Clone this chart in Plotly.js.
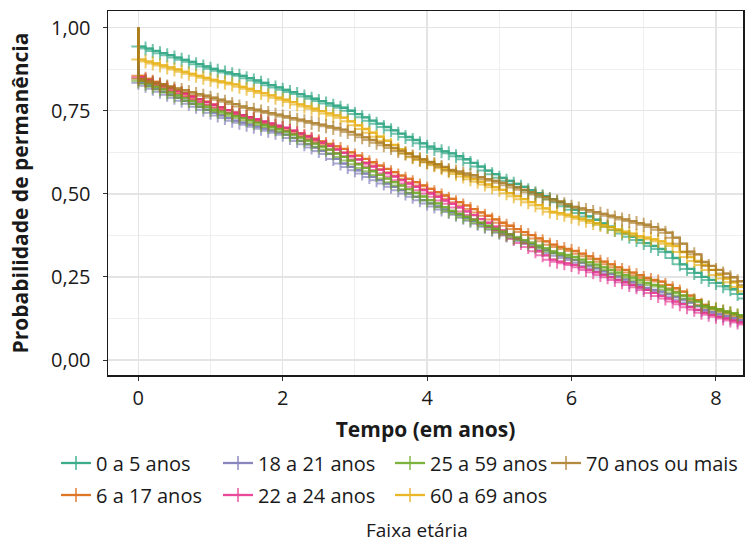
<!DOCTYPE html>
<html>
<head>
<meta charset="utf-8">
<script src="https://cdn.plot.ly/plotly-3.0.1.min.js"></script>
<style>html,body{margin:0;padding:0;background:#fff;}#chart{width:745px;height:545px;}</style>
</head>
<body>
<div id="chart"></div>
<script>
// Tempo (em anos)
const times = [0.0,0.1,0.2,0.3,0.4,0.5,0.6,0.7,0.8,0.9,
1.0,1.1,1.2,1.3,1.4,1.5,1.6,1.7,1.8,1.9,
2.0,2.1,2.2,2.3,2.4,2.5,2.6,2.7,2.8,2.9,
3.0,3.1,3.2,3.3,3.4,3.5,3.6,3.7,3.8,3.9,
4.0,4.1,4.2,4.3,4.4,4.5,4.6,4.7,4.8,4.9,
5.0,5.1,5.2,5.3,5.4,5.5,5.6,5.7,5.8,5.9,
6.0,6.1,6.2,6.3,6.4,6.5,6.6,6.7,6.8,6.9,
7.0,7.1,7.2,7.3,7.4,7.5,7.6,7.7,7.8,7.9,
8.0,8.1,8.2,8.3,8.4];

const startProb = 1.0;

const faixa0a5 = [0.943,0.937,0.930,0.923,0.917,0.910,0.903,0.897,0.890,0.883,
0.876,0.870,0.865,0.860,0.855,0.848,0.841,0.834,0.827,0.820,
0.813,0.806,0.800,0.793,0.786,0.779,0.772,0.765,0.759,0.750,
0.740,0.730,0.720,0.711,0.701,0.691,0.681,0.671,0.662,0.652,
0.642,0.635,0.628,0.622,0.613,0.604,0.593,0.582,0.570,0.559,
0.548,0.539,0.530,0.521,0.511,0.502,0.493,0.484,0.475,0.463,
0.452,0.442,0.432,0.422,0.411,0.401,0.391,0.381,0.371,0.361,
0.352,0.343,0.334,0.325,0.307,0.288,0.274,0.262,0.250,0.241,
0.232,0.222,0.213,0.199,0.185];

const faixa6a17 = [0.855,0.846,0.837,0.829,0.820,0.811,0.803,0.794,0.785,0.777,
0.768,0.760,0.752,0.744,0.737,0.730,0.723,0.716,0.709,0.703,
0.697,0.689,0.682,0.674,0.666,0.658,0.650,0.643,0.635,0.625,
0.615,0.605,0.595,0.585,0.575,0.565,0.555,0.545,0.535,0.525,
0.515,0.505,0.495,0.485,0.475,0.465,0.454,0.444,0.434,0.423,
0.413,0.404,0.394,0.385,0.376,0.366,0.357,0.347,0.340,0.334,
0.328,0.320,0.312,0.304,0.296,0.288,0.279,0.271,0.263,0.255,
0.247,0.241,0.236,0.226,0.216,0.206,0.194,0.180,0.166,0.158,
0.152,0.145,0.139,0.132,0.126];

const faixa18a21 = [0.834,0.825,0.816,0.807,0.798,0.789,0.780,0.771,0.762,0.753,
0.744,0.736,0.728,0.720,0.714,0.708,0.702,0.696,0.690,0.684,
0.678,0.668,0.659,0.649,0.639,0.629,0.620,0.605,0.591,0.581,
0.571,0.561,0.551,0.541,0.531,0.521,0.511,0.501,0.491,0.481,
0.471,0.462,0.453,0.445,0.437,0.428,0.419,0.410,0.401,0.392,
0.383,0.375,0.366,0.358,0.349,0.340,0.331,0.322,0.314,0.307,
0.301,0.293,0.284,0.276,0.267,0.259,0.251,0.242,0.234,0.225,
0.217,0.211,0.206,0.198,0.190,0.182,0.173,0.162,0.150,0.144,
0.138,0.132,0.126,0.120,0.115];

const faixa22a24 = [0.850,0.842,0.833,0.825,0.817,0.809,0.801,0.792,0.784,0.776,
0.768,0.760,0.752,0.744,0.737,0.731,0.725,0.718,0.712,0.705,
0.699,0.690,0.681,0.672,0.663,0.654,0.644,0.633,0.623,0.613,
0.603,0.592,0.582,0.572,0.562,0.552,0.541,0.531,0.521,0.511,
0.501,0.491,0.480,0.470,0.459,0.447,0.436,0.424,0.413,0.401,
0.390,0.378,0.365,0.352,0.340,0.327,0.315,0.302,0.296,0.291,
0.286,0.279,0.271,0.264,0.256,0.249,0.241,0.234,0.226,0.219,
0.211,0.202,0.193,0.185,0.176,0.168,0.159,0.151,0.142,0.136,
0.130,0.125,0.119,0.113,0.107];

const faixa25a59 = [0.840,0.831,0.822,0.814,0.805,0.796,0.788,0.779,0.770,0.762,
0.753,0.747,0.741,0.734,0.728,0.721,0.714,0.707,0.701,0.694,
0.687,0.678,0.669,0.660,0.651,0.642,0.633,0.621,0.611,0.600,
0.589,0.578,0.568,0.557,0.546,0.535,0.525,0.514,0.503,0.492,
0.481,0.471,0.460,0.449,0.440,0.431,0.422,0.413,0.404,0.395,
0.386,0.378,0.369,0.361,0.353,0.344,0.336,0.327,0.321,0.316,
0.310,0.302,0.294,0.287,0.279,0.271,0.263,0.255,0.248,0.240,
0.232,0.226,0.221,0.212,0.203,0.194,0.185,0.176,0.163,0.157,
0.152,0.146,0.141,0.135,0.129];

const faixa60a69 = [0.904,0.898,0.892,0.886,0.880,0.874,0.867,0.861,0.855,0.849,
0.843,0.838,0.834,0.829,0.822,0.816,0.809,0.803,0.796,0.789,
0.783,0.776,0.769,0.763,0.756,0.749,0.742,0.736,0.729,0.718,
0.706,0.695,0.684,0.672,0.660,0.647,0.634,0.622,0.610,0.602,
0.594,0.586,0.577,0.568,0.560,0.552,0.544,0.536,0.528,0.520,
0.512,0.502,0.493,0.484,0.475,0.466,0.456,0.446,0.442,0.437,
0.431,0.425,0.419,0.412,0.406,0.400,0.393,0.386,0.380,0.373,
0.368,0.363,0.357,0.350,0.343,0.325,0.310,0.298,0.286,0.271,
0.256,0.245,0.234,0.220,0.207];

const faixa70mais = [0.846,0.840,0.834,0.829,0.823,0.817,0.812,0.806,0.800,0.795,
0.789,0.783,0.777,0.770,0.763,0.758,0.753,0.748,0.743,0.738,
0.733,0.728,0.723,0.718,0.713,0.708,0.703,0.698,0.693,0.686,
0.678,0.670,0.662,0.654,0.646,0.638,0.629,0.621,0.612,0.604,
0.596,0.589,0.581,0.572,0.567,0.561,0.556,0.550,0.544,0.539,
0.533,0.526,0.519,0.512,0.505,0.498,0.490,0.483,0.477,0.469,
0.461,0.456,0.451,0.445,0.440,0.434,0.429,0.423,0.418,0.412,
0.407,0.400,0.392,0.383,0.368,0.350,0.326,0.318,0.295,0.283,
0.271,0.260,0.249,0.237,0.226];

const seriesNames = ["0 a 5 anos","6 a 17 anos","18 a 21 anos","22 a 24 anos","25 a 59 anos","60 a 69 anos","70 anos ou mais"];
const seriesValues = [faixa0a5, faixa6a17, faixa18a21, faixa22a24, faixa25a59, faixa60a69, faixa70mais];
const seriesColors = ["#1B9E77","#D95F02","#7570B3","#E7298A","#66A61E","#E6AB02","#A6761D"];

const yTickVals = [0, 0.25, 0.5, 0.75, 1];
const yTickText = ["0,00","0,25","0,50","0,75","1,00"];
const xTickVals = [0, 2, 4, 6, 8];
const xTickText = ["0","2","4","6","8"];

// legend grid (column-major like the reference): column and row of each entry
const legendCol = [0, 0, 1, 1, 2, 2, 3];
const legendRowIdx = [0, 1, 0, 1, 0, 1, 0];
const legendColLeft = [56, 218, 390, 546];   // px, left edge of each legend column
const legendRowMid = [463, 495];             // px, vertical centre of each row

const FONT = "Open Sans, Noto Sans, sans-serif";
const W = 745, H = 545;

const traces = seriesNames.map((name, i) => {
  const xs = [times[0]].concat(times);
  const ys = [startProb].concat(seriesValues[i]);
  const sizes = ys.map((_, k) => k === 0 ? 0 : 10);
  return {
    type: "scatter",
    mode: "lines+markers",
    name: name,
    x: xs,
    y: ys,
    line: {shape: "hv", color: seriesColors[i], width: 2.3},
    marker: {symbol: "cross-thin", size: sizes, color: seriesColors[i],
             line: {color: seriesColors[i], width: 2}},
    opacity: 0.85,
    legend: i === 0 ? "legend" : "legend" + (i + 1),
    hoverinfo: "skip"
  };
});

const layout = {
  width: W, height: H,
  margin: {l: 108, r: 2, t: 11, b: 170, pad: 0},
  paper_bgcolor: "#ffffff",
  plot_bgcolor: "#ffffff",
  font: {family: FONT, size: 20, color: "#1a1a1a"},
  showlegend: true,
  xaxis: {
    range: [-0.42, 8.375],
    tickvals: xTickVals, ticktext: xTickText,
    ticks: "outside", ticklen: 4, tickwidth: 1, tickcolor: "#333",
    ticklabelstandoff: 0,
    tickfont: {family: FONT, size: 20, color: "#1a1a1a"},
    showgrid: true, gridcolor: "#e4e4e4", gridwidth: 1.5,
    minor: {dtick: 1, tick0: 1, showgrid: true, gridcolor: "#efefef", gridwidth: 1},
    showline: true, linecolor: "#1a1a1a", linewidth: 1.5, mirror: true,
    zeroline: false,
    title: {text: "Tempo (em anos)", standoff: 15,
            font: {family: FONT, size: 21, color: "#1a1a1a", weight: "bold"}}
  },
  yaxis: {
    range: [-0.045, 1.05],
    tickvals: yTickVals, ticktext: yTickText,
    ticks: "outside", ticklen: 4, tickwidth: 1, tickcolor: "#333",
    ticklabelstandoff: 8,
    tickfont: {family: FONT, size: 20, color: "#1a1a1a"},
    showgrid: true, gridcolor: "#e4e4e4", gridwidth: 1.5,
    minor: {dtick: 0.25, tick0: 0.125, showgrid: true, gridcolor: "#efefef", gridwidth: 1},
    showline: true, linecolor: "#1a1a1a", linewidth: 1.5, mirror: true,
    zeroline: false,
    title: {text: "Probabilidade de permanência", standoff: 16,
            font: {family: FONT, size: 21, color: "#1a1a1a", weight: "bold"}}
  },
  annotations: [{
    text: "Faixa etária",
    xref: "paper", yref: "paper",
    x: (417 - 108) / 635, y: (375 - 530) / 364,
    xanchor: "center", yanchor: "middle",
    showarrow: false,
    font: {family: FONT, size: 19, color: "#1a1a1a"}
  }]
};

seriesNames.forEach((_, i) => {
  const key = i === 0 ? "legend" : "legend" + (i + 1);
  layout[key] = {
    orientation: "h",
    xref: "container", yref: "container",
    x: legendColLeft[legendCol[i]] / W,
    y: 1 - legendRowMid[legendRowIdx[i]] / H,
    xanchor: "left", yanchor: "middle",
    font: {family: FONT, size: 20, color: "#1a1a1a"},
    bgcolor: "rgba(0,0,0,0)",
    borderwidth: 0,
    itemwidth: 30
  };
});

Plotly.newPlot("chart", traces, layout, {displayModeBar: false, staticPlot: true});
</script>
</body>
</html>
